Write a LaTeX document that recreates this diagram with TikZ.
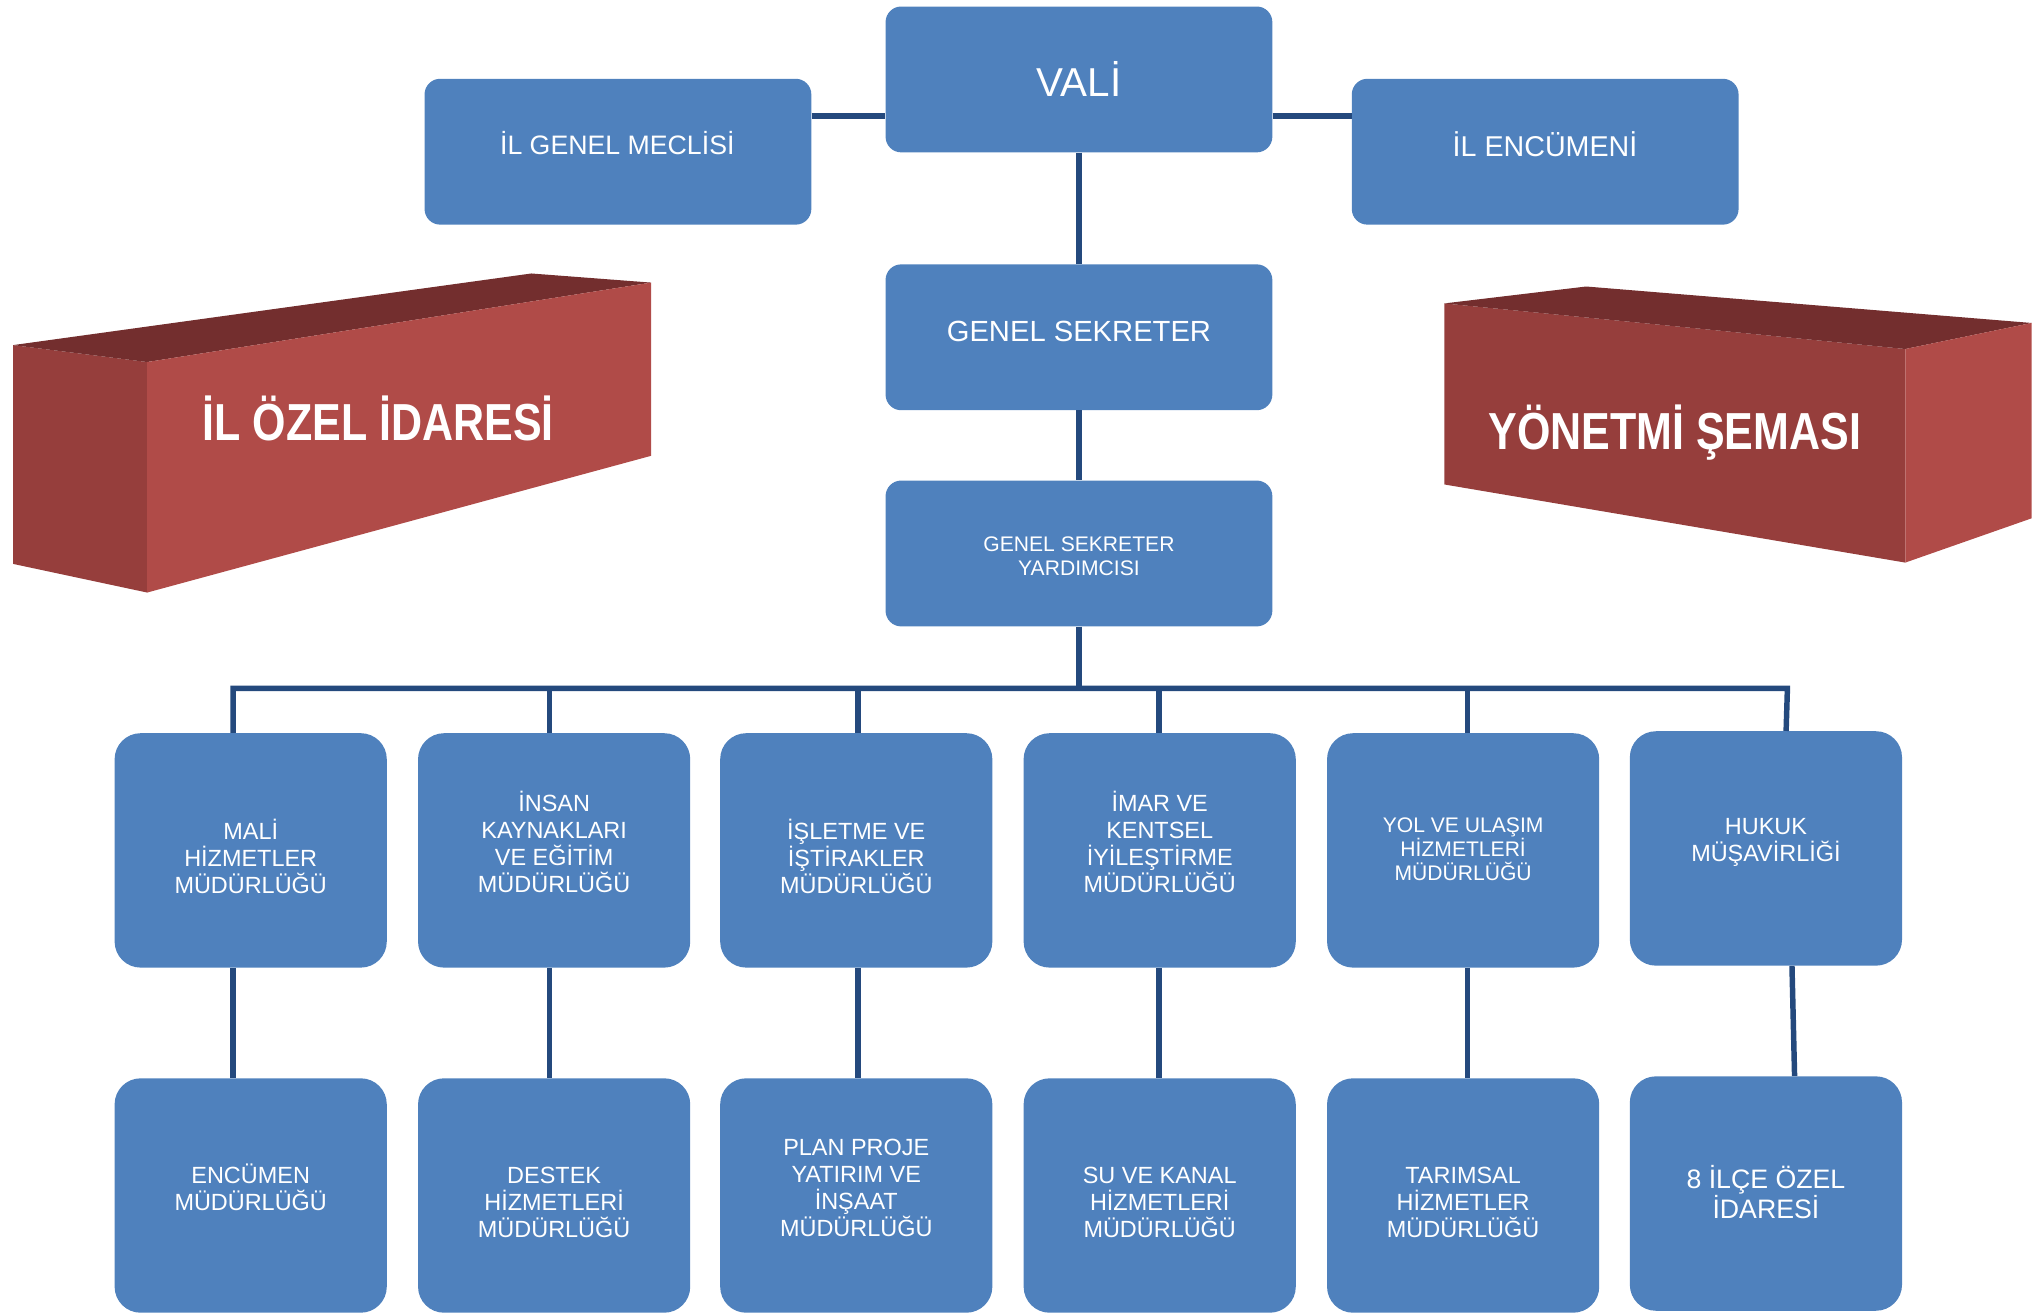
\documentclass[tikz,border=0pt]{standalone}
\usepackage{fontspec}
\setmainfont{Liberation Sans}
\usepackage{graphicx}
\definecolor{boxblue}{RGB}{79,129,189}
\definecolor{linkblue}{RGB}{36,73,125}
\definecolor{redfront}{RGB}{176,75,72}
\definecolor{reddark}{RGB}{150,62,60}
\definecolor{redtop}{RGB}{115,46,46}
\tikzset{
  topbox/.style={fill=boxblue, rounded corners=12pt, minimum width=297pt, minimum height=112pt, inner sep=0pt},
  lowbox/.style={fill=boxblue, rounded corners=20pt, minimum width=209pt, minimum height=180pt, inner sep=0pt},
  boxtext/.style={text=white, align=center, inner sep=0pt},
  rowtext/.style={boxtext, font=\fontsize{18}{20.8}\selectfont},
  conn/.style={draw=linkblue, line width=4.2pt},
  bigtext/.style={text=white, inner sep=0pt, anchor=base, font=\fontsize{40}{44}\selectfont\bfseries}
}
\begin{document}
\begin{tikzpicture}[x=1pt,y=-1pt]
\useasboundingbox (0,0) rectangle (1568,1010.5);

% ---------- 3D red blocks ----------
\fill[reddark] (10,265) -- (113,278) -- (113,455) -- (10,433) -- cycle;
\fill[redtop] (10,265) -- (408,210) -- (500,217) -- (113,278) -- cycle;
\fill[redfront] (113,278) -- (500,217) -- (500,350) -- (113,455) -- cycle;
\node[bigtext] (ozel) at (290.5,338.6) {\scalebox{0.825}[1]{İL ÖZEL İDARESİ}};

\fill[reddark] (1109,233) -- (1463,268) -- (1463,432) -- (1109,372) -- cycle;
\fill[redtop] (1109,233) -- (1218,220) -- (1560,248) -- (1463,268) -- cycle;
\fill[redfront] (1463,268) -- (1560,248) -- (1560,398) -- (1463,432) -- cycle;
\node[bigtext] (sema) at (1286,345.5) {\scalebox{0.825}[1]{YÖNETMİ ŞEMASI}};

% ---------- top boxes ----------
\node[topbox] (vali) at (828.5,61) {};
\node[topbox] (meclis) at (474.5,116.5) {};
\node[topbox] (encumeni) at (1186.5,116.5) {};
\node[topbox] (gs) at (828.5,259) {};
\node[topbox] (gsy) at (828.5,425) {};

\node[boxtext, anchor=base, font=\fontsize{31}{36}\selectfont] (valit) at (828.5,74) {VALİ};
\node[boxtext, anchor=base, font=\fontsize{20.5}{24}\selectfont] (meclist) at (474,118.4) {İL GENEL MECLİSİ};
\node[boxtext, anchor=base, font=\fontsize{22}{26}\selectfont] (encumenit) at (1186.4,120.5) {İL ENCÜMENİ};
\node[boxtext, anchor=base, font=\fontsize{22.4}{26}\selectfont] (gst) at (828.5,262.6) {GENEL SEKRETER};
\node[boxtext, anchor=base, font=\fontsize{16.2}{18.2}\selectfont] (gsyt1) at (828.5,423.5) {GENEL SEKRETER};
\node[boxtext, anchor=base, font=\fontsize{16.2}{18.2}\selectfont] (gsyt2) at (828.5,441.7) {YARDIMCISI};

% ---------- lower boxes ----------
\node[lowbox] (mali) at (192.5,653) {};
\node[lowbox] (insan) at (425.5,653) {};
\node[lowbox] (islet) at (657.5,653) {};
\node[lowbox] (imar) at (890.5,653) {};
\node[lowbox] (yol) at (1123.5,653) {};
\node[lowbox] (hukuk) at (1356,651.5) {};

\node[lowbox] (encm) at (192.5,918) {};
\node[lowbox] (destek) at (425.5,918) {};
\node[lowbox] (plan) at (657.5,918) {};
\node[lowbox] (su) at (890.5,918) {};
\node[lowbox] (tarim) at (1123.5,918) {};
\node[lowbox] (ilce) at (1356,916.5) {};

\node[rowtext] (malit) at (192.5,657.5) {MALİ\\HİZMETLER\\MÜDÜRLÜĞÜ};
\node[rowtext] (insant) at (425.5,646.5) {İNSAN\\KAYNAKLARI\\VE EĞİTİM\\MÜDÜRLÜĞÜ};
\node[rowtext] (isletT) at (657.5,657.5) {İŞLETME VE\\İŞTİRAKLER\\MÜDÜRLÜĞÜ};
\node[rowtext] (imart) at (890.5,646.5) {İMAR VE\\KENTSEL\\İYİLEŞTİRME\\MÜDÜRLÜĞÜ};
\node[boxtext, font=\fontsize{16.2}{18.4}\selectfont] (yolt) at (1123.5,652) {YOL VE ULAŞIM\\HİZMETLERİ\\MÜDÜRLÜĞÜ};
\node[rowtext] (hukukt) at (1356,647) {HUKUK\\MÜŞAVİRLİĞİ};

\node[rowtext] (encmt) at (192.5,912) {ENCÜMEN\\MÜDÜRLÜĞÜ};
\node[rowtext] (destekt) at (425.5,923) {DESTEK\\HİZMETLERİ\\MÜDÜRLÜĞÜ};
\node[rowtext] (plant) at (657.5,912) {PLAN PROJE\\YATIRIM VE\\İNŞAAT\\MÜDÜRLÜĞÜ};
\node[rowtext] (sut) at (890.5,923) {SU VE KANAL\\HİZMETLERİ\\MÜDÜRLÜĞÜ};
\node[rowtext] (tarimt) at (1123.5,923) {TARIMSAL\\HİZMETLER\\MÜDÜRLÜĞÜ};
\node[boxtext, font=\fontsize{20.5}{23}\selectfont] (ilcet) at (1356,915) {8 İLÇE ÖZEL\\İDARESİ};

% ---------- connectors ----------
\coordinate (vh) at (828.5,89);
\draw[conn] (meclis.east |- vh) -- (vali.west |- vh);
\draw[conn] (vali.east |- vh) -- (encumeni.west |- vh);
\draw[conn] (vali.south) -- (gs.north);
\draw[conn] (gs.south) -- (gsy.north);
\coordinate (bus) at (828.5,528.6);
\draw[conn] (gsy.south) -- (bus);
\draw[conn] ([xshift=-13.5pt]mali.north) -- ([xshift=-13.5pt]mali.north |- bus) -- ([xshift=16.5pt]hukuk.north |- bus) -- ([xshift=15.5pt]hukuk.north);
\draw[conn] ([xshift=-3.5pt]insan.north |- bus) -- ([xshift=-3.5pt]insan.north);
\draw[conn] ([xshift=1.5pt]islet.north |- bus) -- ([xshift=1.5pt]islet.north);
\draw[conn] ([xshift=-0.5pt]imar.north |- bus) -- ([xshift=-0.5pt]imar.north);
\draw[conn] ([xshift=3.5pt]yol.north |- bus) -- ([xshift=3.5pt]yol.north);

\draw[conn] ([xshift=-13.5pt]mali.south) -- ([xshift=-13.5pt]encm.north);
\draw[conn] ([xshift=-3.5pt]insan.south) -- ([xshift=-3.5pt]destek.north);
\draw[conn] ([xshift=1.5pt]islet.south) -- ([xshift=1.5pt]plan.north);
\draw[conn] ([xshift=-0.5pt]imar.south) -- ([xshift=-0.5pt]su.north);
\draw[conn] ([xshift=3.5pt]yol.south) -- ([xshift=3.5pt]tarim.north);
\draw[conn] ([xshift=20pt]hukuk.south) -- ([xshift=22pt]ilce.north);
\end{tikzpicture}
\end{document}
